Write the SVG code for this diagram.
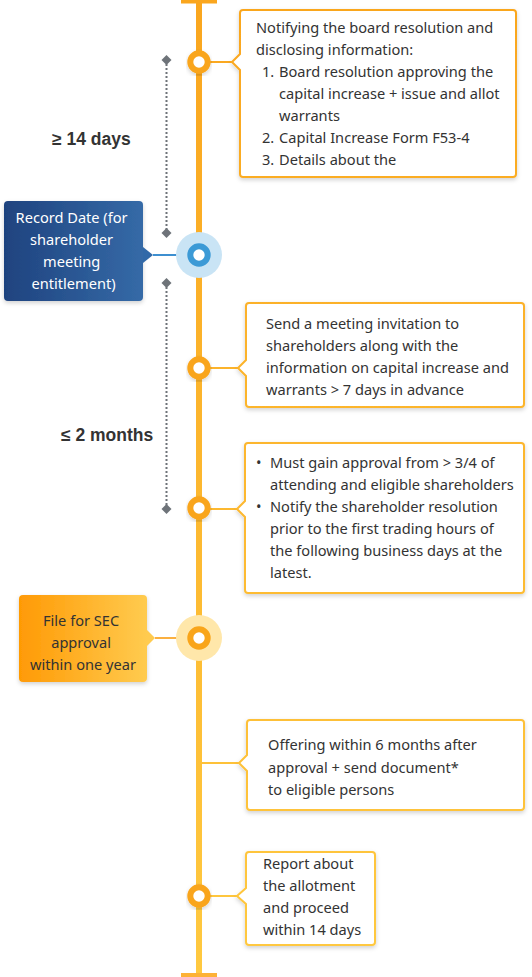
<svg xmlns="http://www.w3.org/2000/svg" width="532" height="977" viewBox="0 0 532 977">
<defs>
<linearGradient id="lineGrad" gradientUnits="userSpaceOnUse" x1="0" y1="0" x2="0" y2="977">
<stop offset="0" stop-color="#FAA61E"/>
<stop offset="1" stop-color="#FFC940"/>
</linearGradient>
<linearGradient id="blueGrad" x1="0" y1="0" x2="1" y2="0">
<stop offset="0" stop-color="#1F437F"/>
<stop offset="1" stop-color="#356AA7"/>
</linearGradient>
<linearGradient id="orangeGrad" x1="0" y1="0" x2="1" y2="0">
<stop offset="0" stop-color="#FF9A05"/>
<stop offset="1" stop-color="#FFCB4F"/>
</linearGradient>
<filter id="shadow" x="-20%" y="-20%" width="140%" height="150%">
<feDropShadow dx="0" dy="2" stdDeviation="2" flood-color="#000" flood-opacity="0.18"/>
</filter>
<marker id="diamond" viewBox="-6 -6 12 12" markerWidth="12" markerHeight="12" refX="0" refY="0" markerUnits="userSpaceOnUse">
<path d="M0,-5 L5,0 L0,5 L-5,0 Z" fill="#6E7379"/>
</marker>
<style>
.body{font-family:"Noto Sans","Open Sans",sans-serif;font-size:14.6px;fill:#333;}
.lab{font-family:"Liberation Sans",Arial,sans-serif;font-size:17.5px;font-weight:bold;fill:#333;}
.box{fill:#fff;stroke:url(#lineGrad);stroke-width:2;filter:url(#shadow);}
.conn{stroke:url(#lineGrad);stroke-width:2;fill:none;}
.ring{fill:#fff;stroke:#F9A51E;stroke-width:6;filter:url(#shadow);}
.dots{stroke:#6E7379;stroke-width:2;stroke-dasharray:2 2;fill:none;marker-start:url(#diamond);marker-end:url(#diamond);}
</style>
</defs>

<g id="timeline">
<rect x="196" y="0" width="6" height="975" fill="url(#lineGrad)"/>
<rect x="181" y="0" width="36" height="3.5" fill="#FAA61E"/>
<rect x="181" y="973" width="36" height="4" fill="#FDB236"/>
</g>

<g id="connectors">
<line class="conn" x1="202" y1="62" x2="233" y2="62"/>
<line x1="153" y1="255" x2="178" y2="255" stroke="#3D8FD0" stroke-width="2"/>
<line class="conn" x1="202" y1="368" x2="239" y2="368"/>
<line class="conn" x1="202" y1="509" x2="238" y2="509"/>
<line x1="155" y1="638" x2="178" y2="638" stroke="#FBB040" stroke-width="2"/>
<line class="conn" x1="202" y1="763" x2="240" y2="763"/>
<line class="conn" x1="202" y1="896" x2="238" y2="896"/>
<path class="dots" d="M166.5,60 V233"/>
<path class="dots" d="M166.5,283 V509"/>
</g>

<g id="labels">
<text class="lab" x="52" y="145">≥ 14 days</text>
<text class="lab" x="61" y="441">≤ 2 months</text>
</g>

<g id="circle1"><circle class="ring" cx="199" cy="62" r="8.7"/></g>
<g id="circle-record">
<circle cx="199" cy="255" r="23" fill="#C9E4F5"/>
<circle cx="199" cy="255" r="8.7" fill="#fff" stroke="#3C9AD6" stroke-width="6"/>
</g>
<g id="circle3"><circle class="ring" cx="199" cy="368" r="8.7"/></g>
<g id="circle4"><circle class="ring" cx="199" cy="508" r="8.7"/></g>
<g id="circle-sec">
<circle cx="199" cy="638" r="23" fill="#FFE7AA"/>
<circle cx="199" cy="638" r="8.7" fill="#fff" stroke="#F9A51A" stroke-width="6"/>
</g>
<g id="circle7"><circle class="ring" cx="199" cy="896" r="8.7"/></g>

<g id="node-board">
<path class="box" d="M243,10 H513 Q516,10 516,13 V174 Q516,177 513,177 H243 Q240,177 240,174 V70 L232,62 L240,54 V13 Q240,10 243,10 Z"/>
<text class="body">
<tspan x="256" y="33">Notifying the board resolution and</tspan>
<tspan x="256" y="55">disclosing information:</tspan>
<tspan x="262" y="77">1.</tspan><tspan x="279" y="77">Board resolution approving the</tspan>
<tspan x="279" y="99">capital increase + issue and allot</tspan>
<tspan x="279" y="121">warrants</tspan>
<tspan x="262" y="143">2.</tspan><tspan x="279" y="143">Capital Increase Form F53-4</tspan>
<tspan x="262" y="165">3.</tspan><tspan x="279" y="165">Details about the</tspan>
</text>
</g>

<g id="node-record">
<rect x="4" y="201" width="139" height="100" rx="4" fill="url(#blueGrad)" filter="url(#shadow)"/>
<path d="M143,247 L153,255 L143,263 Z" fill="#3169A8"/>
<text class="body" text-anchor="middle" style="fill:#fff">
<tspan x="73.5" y="223">Record Date (for</tspan>
<tspan x="73.5" y="245">shareholder</tspan>
<tspan x="73.5" y="267">meeting</tspan>
<tspan x="73.5" y="289">entitlement)</tspan>
</text>
</g>

<g id="node-invite">
<path class="box" d="M249,303 H521 Q524,303 524,306 V404 Q524,407 521,407 H249 Q246,407 246,404 V376 L238,368 L246,360 V306 Q246,303 249,303 Z"/>
<text class="body">
<tspan x="266" y="329">Send a meeting invitation to</tspan>
<tspan x="266" y="351">shareholders along with the</tspan>
<tspan x="266" y="373">information on capital increase and</tspan>
<tspan x="266" y="395">warrants &gt; 7 days in advance</tspan>
</text>
</g>

<g id="node-approval">
<path class="box" d="M248,443 H521 Q524,443 524,446 V590 Q524,593 521,593 H248 Q245,593 245,590 V517 L237,509 L245,501 V446 Q245,443 248,443 Z"/>
<text class="body">
<tspan x="256" y="468">•</tspan><tspan x="270" y="468">Must gain approval from &gt; 3/4 of</tspan>
<tspan x="270" y="490">attending and eligible shareholders</tspan>
<tspan x="256" y="512">•</tspan><tspan x="270" y="512">Notify the shareholder resolution</tspan>
<tspan x="270" y="534">prior to the first trading hours of</tspan>
<tspan x="270" y="556">the following business days at the</tspan>
<tspan x="270" y="578">latest.</tspan>
</text>
</g>

<g id="node-sec">
<rect x="19" y="595" width="128" height="87" rx="4" fill="url(#orangeGrad)" filter="url(#shadow)"/>
<path d="M147,630 L155,638 L147,646 Z" fill="#FFCB4F"/>
<text class="body" text-anchor="middle">
<tspan x="83" y="626">File for SEC</tspan>
<tspan x="83" y="648">approval</tspan>
<tspan x="83" y="670">within one year</tspan>
</text>
</g>

<g id="node-offering">
<path class="box" d="M250,720 H521 Q524,720 524,723 V807 Q524,810 521,810 H250 Q247,810 247,807 V771 L239,763 L247,755 V723 Q247,720 250,720 Z"/>
<text class="body">
<tspan x="268" y="750">Offering within 6 months after</tspan>
<tspan x="268" y="772.5">approval + send document*</tspan>
<tspan x="268" y="795">to eligible persons</tspan>
</text>
</g>

<g id="node-report">
<path class="box" d="M249,852 H372 Q375,852 375,855 V942 Q375,945 372,945 H249 Q246,945 246,942 V904 L237,896 L246,888 V855 Q246,852 249,852 Z"/>
<text class="body">
<tspan x="263" y="869">Report about</tspan>
<tspan x="263" y="891">the allotment</tspan>
<tspan x="263" y="913">and proceed</tspan>
<tspan x="263" y="935">within 14 days</tspan>
</text>
</g>
</svg>
